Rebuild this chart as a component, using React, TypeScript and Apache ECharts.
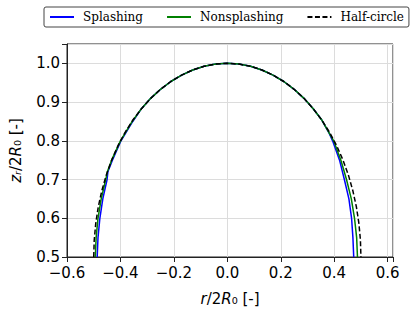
import React, { useEffect, useRef } from 'react';
import * as echarts from 'echarts';

// Splashing (blue)
const splashingX = [-0.487, -0.484, -0.477, -0.466, -0.45, -0.447, -0.43, -0.398, -0.354, -0.3214, -0.2868, -0.25, -0.2113, -0.171, -0.1294, -0.0868, -0.0436, 0, 0.0436, 0.0868, 0.1294, 0.171, 0.2113, 0.25, 0.2868, 0.3214, 0.3536, 0.381, 0.394, 0.42, 0.438, 0.455, 0.465, 0.47, 0.473];
const splashingY = [0.5, 0.55, 0.6, 0.65, 0.7, 0.72, 0.75, 0.8, 0.85, 0.883, 0.9096, 0.933, 0.9532, 0.9698, 0.983, 0.9924, 0.9981, 1, 0.9981, 0.9924, 0.983, 0.9698, 0.9532, 0.933, 0.9096, 0.883, 0.8536, 0.82, 0.8, 0.75, 0.7, 0.65, 0.6, 0.55, 0.5];

// Nonsplashing (green)
const nonsplashingX = [-0.494, -0.491, -0.484, -0.472, -0.455, -0.449, -0.433, -0.4, -0.356, -0.3214, -0.2868, -0.25, -0.2113, -0.171, -0.1294, -0.0868, -0.0436, 0, 0.0436, 0.0868, 0.1294, 0.171, 0.2113, 0.25, 0.2868, 0.3214, 0.3536, 0.398, 0.425, 0.446, 0.464, 0.476, 0.484, 0.487];
const nonsplashingY = [0.5, 0.55, 0.6, 0.65, 0.7, 0.72, 0.75, 0.8, 0.85, 0.883, 0.9096, 0.933, 0.9532, 0.9698, 0.983, 0.9924, 0.9981, 1, 0.9981, 0.9924, 0.983, 0.9698, 0.9532, 0.933, 0.9096, 0.883, 0.8536, 0.8, 0.75, 0.7, 0.65, 0.6, 0.55, 0.5];

// Half-circle (black dashed)
const halfCircleX = [-0.5, -0.4981, -0.4924, -0.483, -0.4698, -0.4532, -0.433, -0.4096, -0.383, -0.3536, -0.3214, -0.2868, -0.25, -0.2113, -0.171, -0.1294, -0.0868, -0.0436, 0, 0.0436, 0.0868, 0.1294, 0.171, 0.2113, 0.25, 0.2868, 0.3214, 0.3536, 0.383, 0.4096, 0.433, 0.4532, 0.4698, 0.483, 0.4924, 0.4981, 0.5];
const halfCircleY = [0.5, 0.5436, 0.5868, 0.6294, 0.671, 0.7113, 0.75, 0.7868, 0.8214, 0.8536, 0.883, 0.9096, 0.933, 0.9532, 0.9698, 0.983, 0.9924, 0.9981, 1, 0.9981, 0.9924, 0.983, 0.9698, 0.9532, 0.933, 0.9096, 0.883, 0.8536, 0.8214, 0.7868, 0.75, 0.7113, 0.671, 0.6294, 0.5868, 0.5436, 0.5];

const seriesNames = ['Splashing', 'Nonsplashing', 'Half-circle'];

const zip = (xs: number[], ys: number[]) => xs.map((x, i) => [x, ys[i]]);

const fmt = (step: number) => (v: number) => {
  if (Math.abs(v / step - Math.round(v / step)) > 1e-6) return '';
  return v.toFixed(1).replace('-', '\u2212');
};

export default function App() {
  const ref = useRef<HTMLDivElement>(null);
  useEffect(() => {
    const chart = echarts.init(ref.current!, null, { renderer: 'svg' });
    const axisColor = '#222';
    chart.setOption({
      animation: false,
      backgroundColor: '#fff',
      legend: {
        left: 44,
        top: 7,
        padding: [4, 5, 4, 5],
        itemWidth: 24,
        itemHeight: 14,
        itemGap: 23,
        borderColor: '#444',
        borderWidth: 1,
        borderRadius: 2,
        backgroundColor: '#fff',
        itemStyle: { opacity: 0 },
        formatter: (n: string) => '{g| }' + n,
        textStyle: {
          fontFamily: 'DejaVu Serif', fontSize: 12, color: '#000',
          rich: { g: { width: 4 } },
        },
        data: seriesNames,
      },
      grid: { left: 59, right: 22, top: 44, bottom: 50, show: true, borderColor: axisColor, borderWidth: 1 },
      xAxis: {
        type: 'value',
        min: -0.6,
        max: 0.62,
        interval: 0.2,
        axisLine: { show: true, onZero: false, lineStyle: { color: axisColor } },
        axisTick: { show: true, inside: false, length: 5, lineStyle: { color: axisColor } },
        axisLabel: { fontFamily: 'DejaVu Sans', fontSize: 15, color: '#000', margin: 8, formatter: fmt(0.2) },
        splitLine: { show: true, lineStyle: { color: '#dcdcdc' } },
        name: '{i|r}/2{i|R}\u2080 [-]',
        nameLocation: 'middle',
        nameGap: 34,
        nameTextStyle: {
          fontFamily: 'DejaVu Sans', fontSize: 15, color: '#000',
          rich: { i: { fontFamily: 'DejaVu Sans', fontSize: 15, fontStyle: 'italic', color: '#000' } },
        },
      },
      yAxis: {
        type: 'value',
        min: 0.5,
        max: 1.05,
        interval: 0.1,
        axisLine: { show: true, onZero: false, lineStyle: { color: axisColor } },
        axisTick: { show: true, inside: false, length: 5, lineStyle: { color: axisColor } },
        axisLabel: { fontFamily: 'DejaVu Sans', fontSize: 15, color: '#000', margin: 7, formatter: fmt(0.1) },
        splitLine: { show: true, lineStyle: { color: '#dcdcdc' } },
        name: '{i|z\u1D63}/2{i|R}\u2080 [-]',
        nameLocation: 'middle',
        nameGap: 44,
        nameTextStyle: {
          fontFamily: 'DejaVu Sans', fontSize: 15, color: '#000',
          rich: { i: { fontFamily: 'DejaVu Sans', fontSize: 15, fontStyle: 'italic', color: '#000' } },
        },
      },
      series: [
        {
          name: seriesNames[0], type: 'line', symbol: 'none', showSymbol: false,
          data: zip(splashingX, splashingY),
          color: '#0000ff', lineStyle: { color: '#0000ff', width: 1.5 },
        },
        {
          name: seriesNames[1], type: 'line', symbol: 'none', showSymbol: false,
          data: zip(nonsplashingX, nonsplashingY),
          color: '#008000', lineStyle: { color: '#008000', width: 1.5 },
        },
        {
          name: seriesNames[2], type: 'line', symbol: 'none', showSymbol: false,
          data: zip(halfCircleX, halfCircleY),
          color: '#000', lineStyle: { color: '#000', width: 1.5, type: [5, 2.5] },
        },
      ],
    });
    return () => chart.dispose();
  }, []);
  return <div ref={ref} style={{ position: 'absolute', left: 0, top: 0, width: 415, height: 311 }} />;
}
